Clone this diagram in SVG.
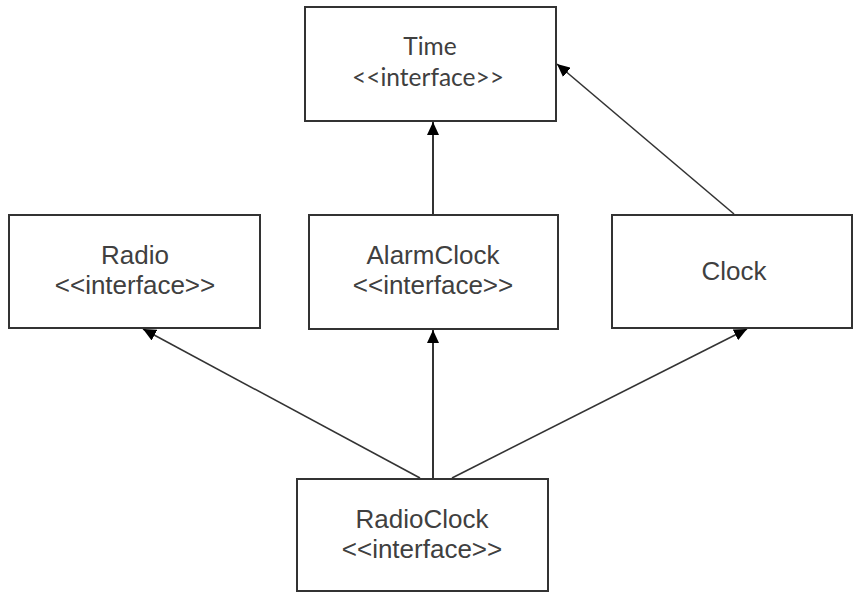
<svg xmlns="http://www.w3.org/2000/svg" width="854" height="593" viewBox="0 0 854 593">
<style>
.box{fill:#fff;stroke:#333;stroke-width:2}
.t{font-family:"Liberation Sans",Arial,sans-serif;font-size:26px;fill:#404040;text-anchor:middle}
.tc{font-family:Lato,"Open Sans",sans-serif;font-size:24.5px;fill:#404040;text-anchor:middle}
.c{stroke:#333;stroke-width:2;fill:none;marker-end:url(#ah)}
.d{stroke:#333;stroke-width:1.6;fill:none;marker-end:url(#ah)}
</style>
<defs>
<marker id="ah" markerUnits="userSpaceOnUse" markerWidth="14" markerHeight="12" refX="13" refY="6" orient="auto" viewBox="0 0 14 12">
<path d="M0,0 L13,6 L0,12 z" fill="#000"/>
</marker>
</defs>
<rect width="854" height="593" fill="#fff"/>
<g id="connectors">
<line class="c" x1="433" y1="214" x2="433" y2="122"/>
<line class="d" x1="734" y1="214" x2="557" y2="64"/>
<line class="d" x1="420" y1="478" x2="143" y2="329"/>
<line class="c" x1="433" y1="478" x2="433" y2="330"/>
<line class="d" x1="452" y1="478" x2="747" y2="329"/>
</g>
<g id="time">
<rect class="box" x="305" y="7" width="251" height="114"/>
<text class="tc" x="430" y="55">Time</text>
<text class="tc" x="428" y="86">&lt;&lt;interface&gt;&gt;</text>
</g>
<g id="radio">
<rect class="box" x="9" y="215" width="251" height="113"/>
<text class="t" x="135" y="264">Radio</text>
<text class="t" x="135" y="294">&lt;&lt;interface&gt;&gt;</text>
</g>
<g id="alarmclock">
<rect class="box" x="309" y="215" width="249" height="114"/>
<text class="t" x="433" y="264">AlarmClock</text>
<text class="t" x="433" y="294">&lt;&lt;interface&gt;&gt;</text>
</g>
<g id="clock">
<rect class="box" x="612" y="215" width="240" height="113"/>
<text class="t" x="734" y="280">Clock</text>
</g>
<g id="radioclock">
<rect class="box" x="297" y="479" width="251" height="112"/>
<text class="t" x="422" y="528">RadioClock</text>
<text class="t" x="422" y="558">&lt;&lt;interface&gt;&gt;</text>
</g>
</svg>
